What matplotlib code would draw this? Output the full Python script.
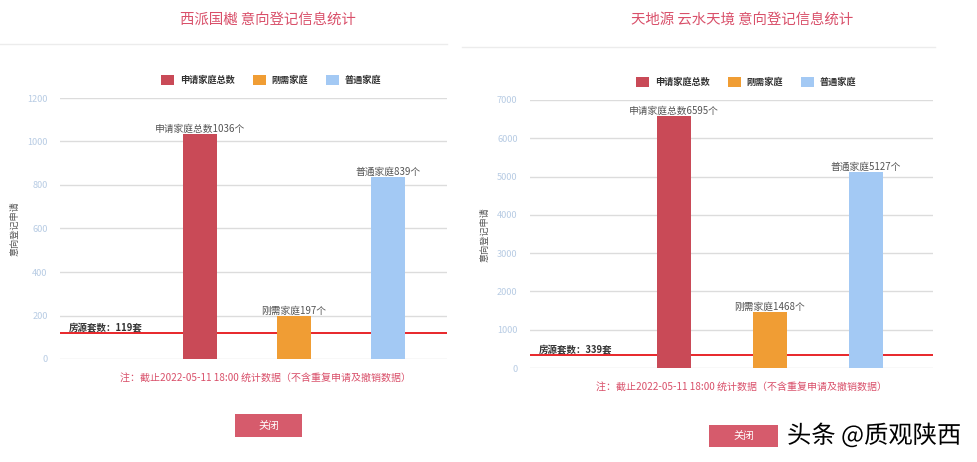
"""Two bar panels: registration statistics for two housing projects."""
import matplotlib
matplotlib.use("Agg")
import matplotlib.pyplot as plt
import matplotlib.patheffects as pe
from matplotlib.patches import FancyBboxPatch

plt.rcParams["font.family"] = ["Noto Sans CJK SC", "DejaVu Sans"]

# ---- data ----
CATEGORIES = ["申请家庭总数", "刚需家庭", "普通家庭"]
LEFT_TITLE = "西派国樾 意向登记信息统计"
LEFT_VALUES = [1036, 197, 839]
LEFT_HOUSES = 119
LEFT_YTICKS = [0, 200, 400, 600, 800, 1000, 1200]

RIGHT_TITLE = "天地源 云水天境 意向登记信息统计"
RIGHT_VALUES = [6595, 1468, 5127]
RIGHT_HOUSES = 339
RIGHT_YTICKS = [0, 1000, 2000, 3000, 4000, 5000, 6000, 7000]

NOTE = "注：截止2022-05-11 18:00 统计数据（不含重复申请及撤销数据）"
YLABEL = "意向登记申请"
BUTTON = "关闭"
WATERMARK = "头条 @质观陕西"

COLORS = ["#c94a57", "#f09d34", "#a3c9f4"]
TITLE_C = "#d9506a"
W, H = 977, 462

fig = plt.figure(figsize=(W / 100, H / 100), dpi=100)
fig.patch.set_facecolor("white")


def px(x, y):
    return x / W, 1 - y / H


def panel(x0, x1, y_top, y_zero, xlim, values, houses, yticks, title,
          title_xy, sep_y, sep_x, leg_xy, note_xy, ylabel_xy):
    left, bottom = px(x0, y_zero)
    ax = fig.add_axes([left, bottom, (x1 - x0) / W, (y_zero - y_top) / H])
    for i, (cat, v, c) in enumerate(zip(CATEGORIES, values, COLORS)):
        ax.bar(i, v, width=0.36, color=c, label=cat, zorder=3)
        ax.text(i, v, f"{cat}{v}个", ha="center", va="bottom", fontsize=7,
                color="#555555", zorder=4)
    ax.axhline(houses, color="#e8262a", linewidth=1.4, zorder=2)
    ax.text(xlim[0] + 0.09, houses, f"房源套数：{houses}套", ha="left", va="bottom",
            fontsize=6.8, fontweight="bold", color="#333333", zorder=4)
    ax.set_xlim(*xlim)
    ax.set_ylim(yticks[0], yticks[-1])
    ax.set_yticks(yticks)
    ax.set_xticks([])
    ax.tick_params(axis="y", length=0, pad=9, labelsize=6.6, labelcolor="#b8cce4")
    ax.grid(axis="y", color="#dcdcdc", linewidth=1, zorder=0)
    ax.set_axisbelow(True)
    for s in ax.spines.values():
        s.set_visible(False)

    fig.text(*px(*title_xy), title, ha="center", va="center", fontsize=10.4,
             color=TITLE_C)
    fig.add_artist(plt.Line2D([sep_x[0] / W, sep_x[1] / W], [1 - sep_y / H] * 2,
                              color="#ececec", linewidth=1))
    handles, labels = ax.get_legend_handles_labels()
    leg = fig.legend(handles, labels, loc="center", bbox_to_anchor=px(*leg_xy),
                     ncol=3, frameon=False, handlelength=1.4, handleheight=1.2,
                     columnspacing=2.0, handletextpad=0.6,
                     prop={"size": 6.6, "weight": "bold"})
    for t in leg.get_texts():
        t.set_color("#333333")
    fig.text(*px(*note_xy), NOTE, ha="center", va="center", fontsize=7.2,
             color="#d9506a")
    fig.text(*px(*ylabel_xy), YLABEL, ha="center", va="center", rotation=90,
             fontsize=6.6, color="#555555")
    return ax


panel(60, 447, 98, 359, (-1.49, 2.63), LEFT_VALUES, LEFT_HOUSES, LEFT_YTICKS,
      LEFT_TITLE, (268, 20), 44, (0, 447), (271, 80), (265, 378), (15, 229))
panel(530, 933, 100, 368, (-1.5, 2.7), RIGHT_VALUES, RIGHT_HOUSES, RIGHT_YTICKS,
      RIGHT_TITLE, (742, 20), 47, (462, 935), (746, 82), (741, 387), (485, 235))


def button(x0, y0, x1, y1):
    bx, by = px(x0, y1)
    fig.add_artist(FancyBboxPatch((bx, by), (x1 - x0) / W, (y1 - y0) / H,
                                  boxstyle="square,pad=0", facecolor="#d65b6c",
                                  edgecolor="none", transform=fig.transFigure))
    fig.text(*px((x0 + x1) / 2, (y0 + y1) / 2), BUTTON, ha="center", va="center",
             fontsize=7.5, color="white")


button(235, 414, 302, 437)
button(709, 425, 778, 447)

fig.text(*px(874, 436), WATERMARK, ha="center", va="center", fontsize=17.5,
         color="black", fontweight="medium",
         path_effects=[pe.withStroke(linewidth=2.5, foreground="white")])

fig.savefig("out.png", dpi=100, facecolor="white")
